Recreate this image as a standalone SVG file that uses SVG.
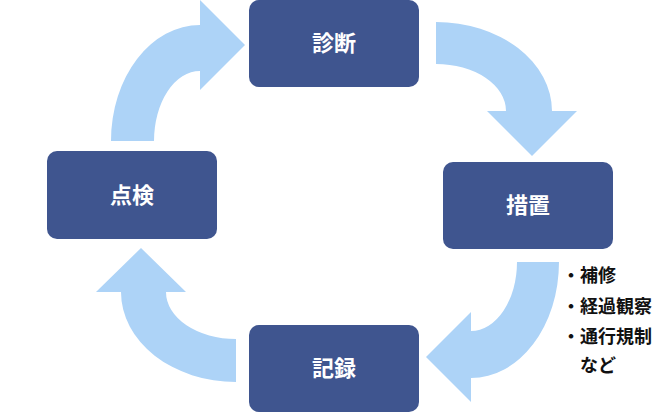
<svg xmlns="http://www.w3.org/2000/svg" width="670" height="413" viewBox="0 0 670 413">
<style>
.box{fill:#3F558F}
.lbl{fill:#ffffff;font-family:"Noto Sans CJK JP","Noto Sans",sans-serif;font-weight:bold;font-size:22px;text-anchor:middle}
.arr{fill:#ADD3F7}
.note{fill:#111111;font-family:"Noto Sans CJK JP","Noto Sans",sans-serif;font-weight:bold;font-size:18px}
</style>
<rect width="670" height="413" fill="#ffffff"/>
<g id="connectors">
<path class="arr" d="M111,141 A89,116 0 0 1 200,25 L200,0 L245,45 L200,90 L200,71 A46,70 0 0 0 154,141 Z"/>
<path class="arr" d="M436,22 A116,89 0 0 1 552,111 L577,111 L532,156 L487,111 L506,111 A70,47 0 0 0 436,64 Z"/>
<path class="arr" d="M559,262 A88,116 0 0 1 471,378 L471,402 L426,357 L471,312 L471,331 A46,69 0 0 0 517,262 Z"/>
<path class="arr" d="M236,382 A115,90 0 0 1 121,292 L96,292 L141,248 L186,292 L166,292 A70,47 0 0 0 236,339 Z"/>
</g>
<g id="node-shindan">
<rect class="box" x="249" y="0" width="170" height="87" rx="10"/>
<text class="lbl" x="334" y="51">診断</text>
</g>
<g id="node-sochi">
<rect class="box" x="443" y="162" width="170" height="87" rx="10"/>
<text class="lbl" x="528" y="213">措置</text>
</g>
<g id="node-kiroku">
<rect class="box" x="249" y="325" width="170" height="87" rx="10"/>
<text class="lbl" x="334" y="376">記録</text>
</g>
<g id="node-tenken">
<rect class="box" x="47" y="151" width="170" height="88" rx="10"/>
<text class="lbl" x="132" y="203">点検</text>
</g>
<g id="note">
<text class="note" x="562" y="282">・補修</text>
<text class="note" x="562" y="313">・経過観察</text>
<text class="note" x="562" y="343">・通行規制</text>
<text class="note" x="580" y="372">など</text>
</g>
</svg>
